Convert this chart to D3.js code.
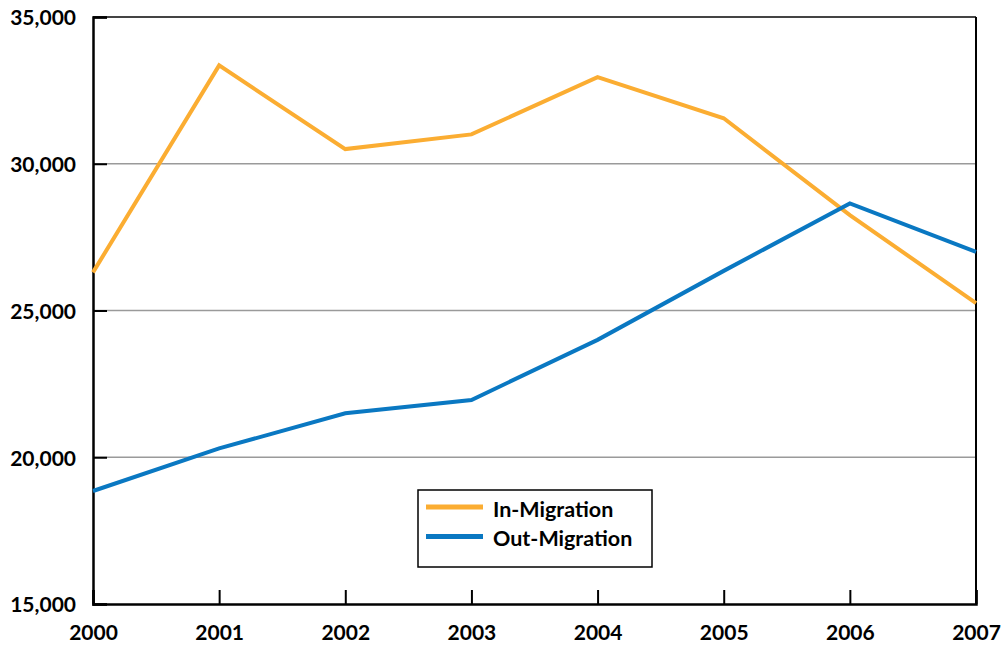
<!DOCTYPE html>
<html><head><meta charset="utf-8">
<script src="https://cdn.jsdelivr.net/npm/d3@7"></script>
<style>body{margin:0;background:#fff}svg{display:block}text{font-family:Lato,"Open Sans",sans-serif;font-weight:bold;fill:#000}</style>
</head><body>
<script>
const years = [2000, 2001, 2002, 2003, 2004, 2005, 2006, 2007];
const inMigration = [26300, 33350, 30500, 31000, 32950, 31550, 28250, 25250];
const outMigration = [18850, 20300, 21500, 21950, 24000, 26350, 28650, 27000];
const yTicks = [15000, 20000, 25000, 30000, 35000];
const seriesNames = ["In-Migration", "Out-Migration"];
const colors = ["#FBAD32", "#0A78C2"];

const W = 1001, H = 648;
const m = {l: 93, r: 25, t: 17, b: 44};
const svg = d3.select("body").append("svg").attr("width", W).attr("height", H);
const x = d3.scaleLinear().domain([2000, 2007]).range([m.l, W - m.r]);
const y = d3.scaleLinear().domain([15000, 35000]).range([H - m.b, m.t]);

// gridlines
svg.append("g").selectAll("line").data(yTicks.filter(d => d > 15000 && d < 35000)).join("line")
  .attr("x1", m.l).attr("x2", W - m.r).attr("y1", d => y(d)).attr("y2", d => y(d))
  .attr("stroke", "#9a9a9a").attr("stroke-width", 1.5);
// top & right border
svg.append("line").attr("x1", m.l).attr("x2", W - m.r).attr("y1", y(35000)).attr("y2", y(35000)).attr("stroke", "#444").attr("stroke-width", 2);
svg.append("line").attr("x1", W - m.r).attr("x2", W - m.r).attr("y1", m.t).attr("y2", H - m.b).attr("stroke", "#000").attr("stroke-width", 2);

// y axis
const yAxis = svg.append("g").attr("transform", `translate(${m.l},0)`)
  .call(d3.axisLeft(y).tickValues(yTicks).tickSize(-14).tickPadding(30).tickFormat(d3.format(",")));
yAxis.select(".domain").attr("stroke", "#000").attr("stroke-width", 2.5);
yAxis.selectAll(".tick line").attr("stroke", "#000").attr("stroke-width", 2);
yAxis.selectAll("text").style("font-size", "21px").attr("dy", "0.38em").attr("x", -17);

// x axis
const xAxis = svg.append("g").attr("transform", `translate(0,${H - m.b})`)
  .call(d3.axisBottom(x).tickValues(years).tickSize(-14).tickPadding(6).tickFormat(d3.format("d")));
xAxis.select(".domain").attr("stroke", "#000").attr("stroke-width", 2.5);
xAxis.selectAll(".tick line").attr("stroke", "#000").attr("stroke-width", 2);
xAxis.selectAll("text").style("font-size", "21px").attr("y", 21).attr("dy", "0.71em");

// lines
const line = d3.line().x((d, i) => x(years[i])).y(d => y(d));
[inMigration, outMigration].forEach((s, k) => {
  svg.append("path").datum(s).attr("d", line).attr("fill", "none")
    .attr("stroke", colors[k]).attr("stroke-width", 4).attr("stroke-linejoin", "miter");
});

// legend
const lg = svg.append("g").attr("transform", "translate(418,490)");
lg.append("rect").attr("width", 234).attr("height", 77).attr("fill", "#fff").attr("stroke", "#000").attr("stroke-width", 1.5);
seriesNames.forEach((n, i) => {
  const yy = 17 + i * 29.5;
  lg.append("line").attr("x1", 8).attr("x2", 65).attr("y1", yy).attr("y2", yy).attr("stroke", colors[i]).attr("stroke-width", 5);
  lg.append("text").attr("x", 75).attr("y", yy + 2).attr("dy", "0.36em").style("font-size", "21.5px").text(n);
});
</script>
</body></html>
